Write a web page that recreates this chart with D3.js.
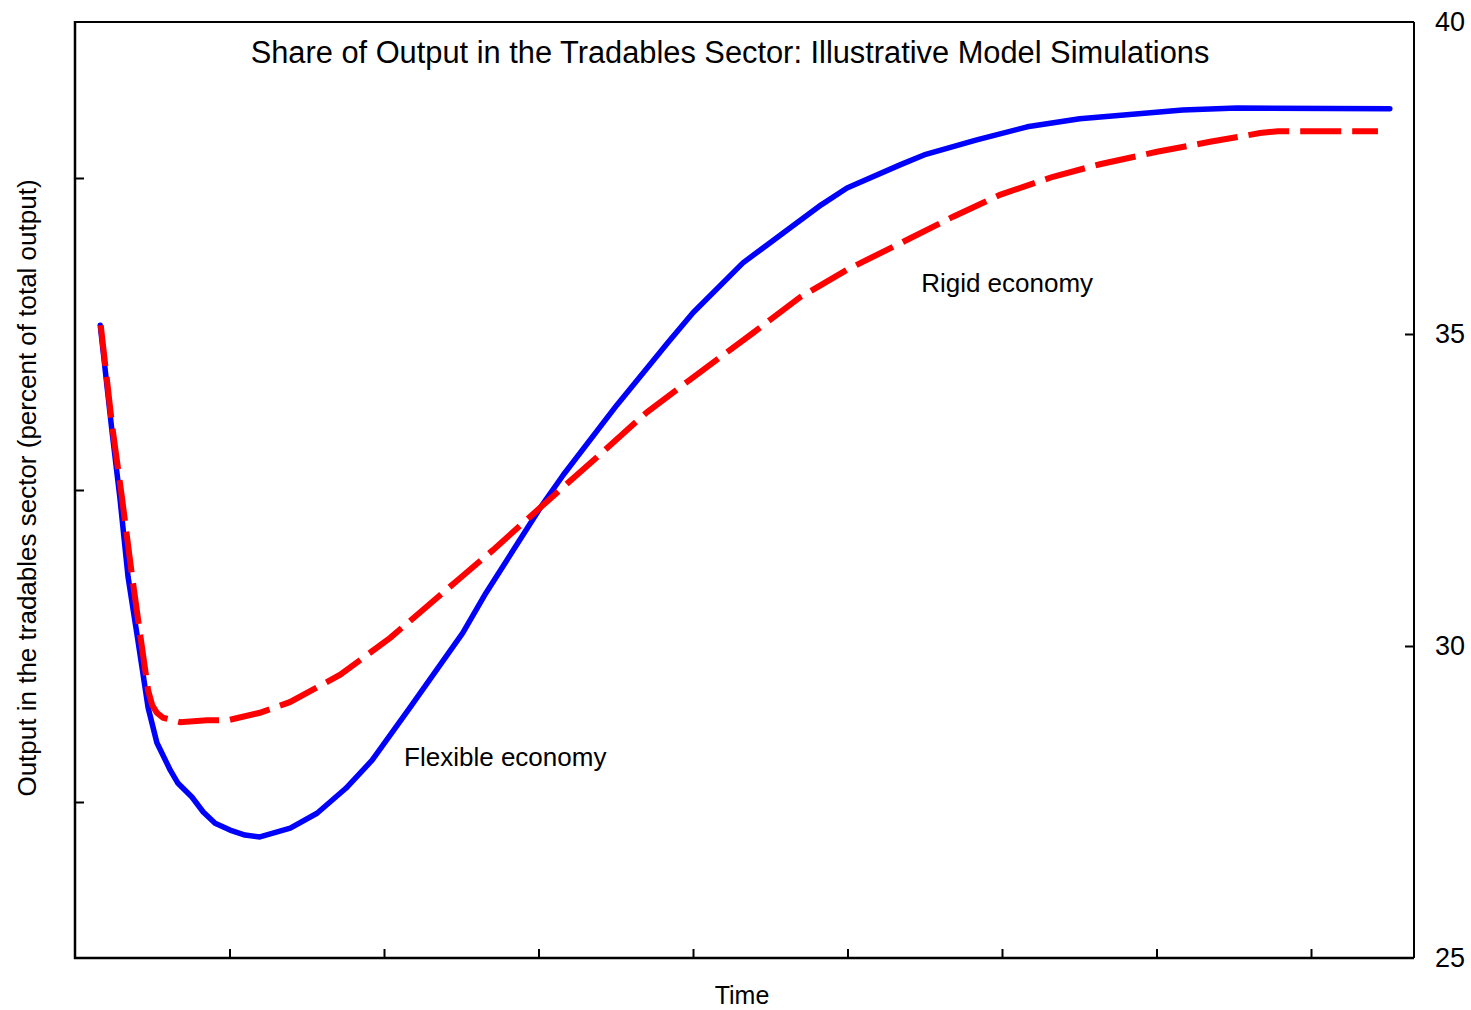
<!DOCTYPE html>
<html>
<head>
<meta charset="utf-8">
<script src="https://cdn.jsdelivr.net/npm/d3@7/dist/d3.min.js"></script>
<style>
  body { margin: 0; background: #fff; }
  svg { display: block; }
  text { font-family: "Liberation Sans", Arial, sans-serif; fill: #000; }
</style>
</head>
<body>
<svg id="chart" width="1471" height="1010"></svg>
<script>
// ---- Data (time in periods, value in percent of total output) ----
const titleText = "Share of Output in the Tradables Sector: Illustrative Model Simulations";
const yLabelText = "Output in the tradables sector (percent of total output)";
const xLabelText = "Time";

const flexibleT = [0.49, 0.72, 0.87, 1.03, 1.22, 1.42, 1.59, 1.85, 2.0, 2.27, 2.49, 2.72, 3.01, 3.3, 3.59, 4.18, 4.7, 5.26, 5.77, 6.5, 7.53, 7.98, 9.07, 9.48, 10.52, 11.51, 12.0, 12.97, 13.98, 14.49, 14.99, 16.02, 16.52, 17.51, 18.49, 19.51, 21.51, 22.56, 25.53];
const flexibleV = [35.14, 33.43, 32.39, 31.11, 30.10, 29.01, 28.45, 28.01, 27.80, 27.58, 27.34, 27.16, 27.05, 26.97, 26.94, 27.08, 27.32, 27.72, 28.17, 29.01, 30.21, 30.85, 32.26, 32.74, 33.86, 34.86, 35.34, 36.14, 36.76, 37.07, 37.34, 37.71, 37.88, 38.11, 38.32, 38.45, 38.59, 38.62, 38.61];

const rigidT = [0.5, 0.72, 0.91, 1.11, 1.28, 1.42, 1.5, 1.59, 1.71, 2.04, 2.56, 2.97, 3.59, 4.17, 5.15, 6.12, 7.48, 8.12, 9.09, 10.14, 11.11, 12.14, 13.17, 14.08, 14.99, 16.16, 17.05, 17.96, 18.99, 19.9, 21.01, 22.04, 23.01, 23.36, 25.3];
const rigidV = [35.14, 33.54, 32.39, 31.11, 30.10, 29.29, 29.05, 28.93, 28.85, 28.78, 28.81, 28.81, 28.93, 29.10, 29.54, 30.13, 31.09, 31.54, 32.26, 33.03, 33.75, 34.39, 35.02, 35.59, 36.03, 36.51, 36.88, 37.23, 37.52, 37.72, 37.92, 38.08, 38.22, 38.25, 38.25];

const xTicks = [3, 6, 9, 12, 15, 18, 21, 24];
const yLabeledTicks = [25, 30, 35, 40];
const yMinorTicks = [27.5, 32.5, 37.5];

const annotations = [
  { text: "Rigid economy", t: 16.43, v: 35.67 },
  { text: "Flexible economy", t: 6.39, v: 28.08 }
];

// ---- Layout ----
const svg = d3.select("#chart");
const L = 75, R = 1414, T = 22, B = 958;

const x = d3.scaleLinear().domain([0, 26]).range([L, R]);
const y = d3.scaleLinear().domain([25, 40]).range([B, T]);

// Frame
svg.append("line").attr("x1", L).attr("x2", R).attr("y1", T).attr("y2", T)
  .attr("stroke", "#000").attr("stroke-width", 2);
svg.append("line").attr("x1", R).attr("x2", R).attr("y1", T).attr("y2", B)
  .attr("stroke", "#000").attr("stroke-width", 2);
svg.append("line").attr("x1", L).attr("x2", L).attr("y1", T - 1).attr("y2", B + 1)
  .attr("stroke", "#000").attr("stroke-width", 2.5);
svg.append("line").attr("x1", L - 1).attr("x2", R).attr("y1", B).attr("y2", B)
  .attr("stroke", "#000").attr("stroke-width", 2.5);

// Bottom axis (inward ticks, no labels)
const xAxis = d3.axisTop(x).tickValues(xTicks).tickSize(9).tickFormat("");
const gx = svg.append("g").attr("transform", `translate(0,${B})`).call(xAxis);
gx.select(".domain").remove();
gx.selectAll(".tick line").attr("stroke", "#000").attr("stroke-width", 2);

// Left axis (inward minor ticks)
const yAxisL = d3.axisRight(y).tickValues(yMinorTicks).tickSize(9).tickFormat("");
const gyl = svg.append("g").attr("transform", `translate(${L},0)`).call(yAxisL);
gyl.select(".domain").remove();
gyl.selectAll(".tick line").attr("stroke", "#000").attr("stroke-width", 2);

// Right axis (inward ticks, labels outside)
const yAxisR = d3.axisLeft(y).tickValues(yLabeledTicks).tickSize(9).tickFormat("");
const gyr = svg.append("g").attr("transform", `translate(${R},0)`).call(yAxisR);
gyr.select(".domain").remove();
gyr.selectAll(".tick line").attr("stroke", "#000").attr("stroke-width", 2)
  .filter(d => d === 25 || d === 40).remove();
svg.append("g").selectAll("text").data(yLabeledTicks).join("text")
  .attr("x", R + 21).attr("y", d => y(d)).attr("dy", "0.35em")
  .attr("font-size", 27).text(d => d);

// Lines
const line = d3.line().x(d => x(d[0])).y(d => y(d[1]));
const flexData = flexibleT.map((t, i) => [t, flexibleV[i]]);
const rigidData = rigidT.map((t, i) => [t, rigidV[i]]);

svg.append("path").datum(flexData).attr("d", line)
  .attr("fill", "none").attr("stroke", "#0000ff").attr("stroke-width", 5.5)
  .attr("stroke-linejoin", "round").attr("stroke-linecap", "round");

svg.append("path").datum(rigidData).attr("d", line)
  .attr("fill", "none").attr("stroke", "#ff0000").attr("stroke-width", 6)
  .attr("stroke-dasharray", "41,11");

// Annotations
svg.append("g").selectAll("text").data(annotations).join("text")
  .attr("x", d => x(d.t)).attr("y", d => y(d.v))
  .attr("font-size", 26).text(d => d.text);

// Title and axis labels
svg.append("text").attr("x", 730).attr("y", 63).attr("text-anchor", "middle")
  .attr("font-size", 30.8).text(titleText);
svg.append("text").attr("x", 742).attr("y", 1004).attr("text-anchor", "middle")
  .attr("font-size", 25).text(xLabelText);
svg.append("text").attr("transform", `translate(36,488) rotate(-90)`)
  .attr("text-anchor", "middle").attr("font-size", 26).text(yLabelText);
</script>
</body>
</html>
